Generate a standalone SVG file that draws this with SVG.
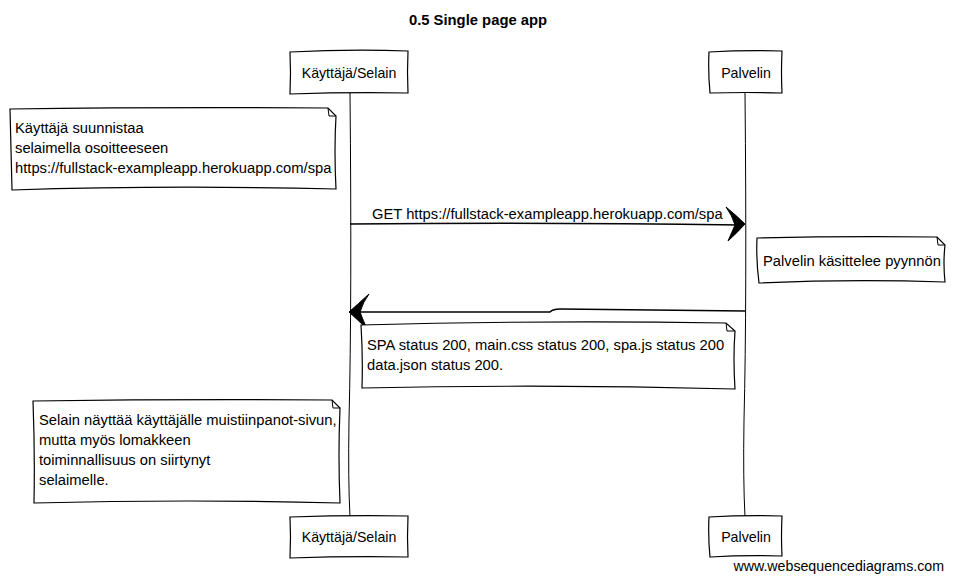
<svg xmlns="http://www.w3.org/2000/svg" width="953" height="581" viewBox="0 0 953 581">
<style>
text{font-family:"Liberation Sans",Arial,sans-serif;font-size:14.2px;fill:#000}
.title{font-weight:bold;font-size:14.8px}
.lbl{font-size:14.75px}
.box{fill:#fff;stroke:#000;stroke-width:1.2}
.life{fill:none;stroke:#000;stroke-width:1}
.msg{fill:none;stroke:#000;stroke-width:1.6}
.head{fill:#000;stroke:#000;stroke-width:1}
.ear{fill:none;stroke:#000;stroke-width:1}
</style>
<rect width="953" height="581" fill="#fff"/>
<text class="title" x="478" y="25" text-anchor="middle">0.5 Single page app</text>

<g id="connectors">
  <path class="life" d="M350,93 Q352,300 349,420 Q348,480 350,517"/>
  <path class="life" d="M745,93 Q747,300 744,420 Q743,480 745,517"/>
  <g id="msg1">
    <path class="msg" d="M350,224 Q540,222 740,225"/>
    <path class="head" d="M726,207 Q737,216 745,224 Q737,233 728,241 Q732,232 735,225 Q732,215 726,207 Z"/>
    <text class="lbl" x="372" y="219">GET https://fullstack-exampleapp.herokuapp.com/spa</text>
  </g>
  <g id="msg2">
    <path class="msg" d="M745,311 L560,309 Q553,309 550,312 L355,312"/>
    <path class="head" d="M369,294 Q358,304 349,312 Q358,320 367,329 Q363,320 360,312 Q363,302 369,294 Z"/>
  </g>
</g>

<g id="selain-top">
  <path class="box" d="M290,52 Q350,49 408,51 Q407,72 408,93 Q350,92 290,94 Q291,73 290,52 Z"/>
  <text x="349" y="78" text-anchor="middle">Käyttäjä/Selain</text>
</g>
<g id="palvelin-top">
  <path class="box" d="M709,52 Q745,50 782,51 Q781,72 782,93 Q745,92 710,93 Q708,72 709,52 Z"/>
  <text x="746" y="78" text-anchor="middle">Palvelin</text>
</g>
<g id="selain-bottom">
  <path class="box" d="M290,517 Q350,515 408,516 Q407,537 408,557 Q350,556 290,558 Q291,537 290,517 Z"/>
  <text x="349" y="542" text-anchor="middle">Käyttäjä/Selain</text>
</g>
<g id="palvelin-bottom">
  <path class="box" d="M709,517 Q745,515 782,516 Q781,537 782,556 Q745,555 710,557 Q708,537 709,517 Z"/>
  <text x="746" y="542" text-anchor="middle">Palvelin</text>
</g>

<g id="note1">
  <path class="box" d="M10,109 Q160,107 328,108 L336,116 Q334,150 336,189 Q170,185 12,190 Q11,150 10,109 Z"/>
  <path class="ear" d="M328,108 L329,116 L336,116"/>
  <text class="lbl" x="15" y="133">Käyttäjä suunnistaa</text>
  <text class="lbl" x="15" y="153">selaimella osoitteeseen</text>
  <text class="lbl" x="15" y="173">https://fullstack-exampleapp.herokuapp.com/spa</text>
</g>

<g id="note2">
  <path class="box" d="M757,238 Q840,236 937,237 L945,245 Q943,263 945,282 Q850,279 759,283 Q756,260 757,238 Z"/>
  <path class="ear" d="M937,237 L938,245 L945,245"/>
  <text class="lbl" x="763" y="266">Palvelin käsittelee pyynnön</text>
</g>

<g id="note3">
  <path class="box" d="M361,325 Q540,320 726,323 L735,331 Q733,358 735,389 Q550,384 362,388 Q363,356 361,325 Z"/>
  <path class="ear" d="M726,323 L727,331 L735,331"/>
  <text class="lbl" x="367" y="350">SPA status 200, main.css status 200, spa.js status 200</text>
  <text class="lbl" x="367" y="370">data.json status 200.</text>
</g>

<g id="note4">
  <path class="box" d="M33,401 Q180,399 332,400 L340,408 Q338,455 340,503 Q190,499 34,503 Q35,452 33,401 Z"/>
  <path class="ear" d="M332,400 L333,408 L340,408"/>
  <text class="lbl" x="39" y="425">Selain näyttää käyttäjälle muistiinpanot-sivun,</text>
  <text class="lbl" x="39" y="445">mutta myös lomakkeen</text>
  <text class="lbl" x="39" y="465">toiminnallisuus on siirtynyt</text>
  <text class="lbl" x="39" y="485">selaimelle.</text>
</g>

<text x="944" y="571" text-anchor="end">www.websequencediagrams.com</text>
</svg>
